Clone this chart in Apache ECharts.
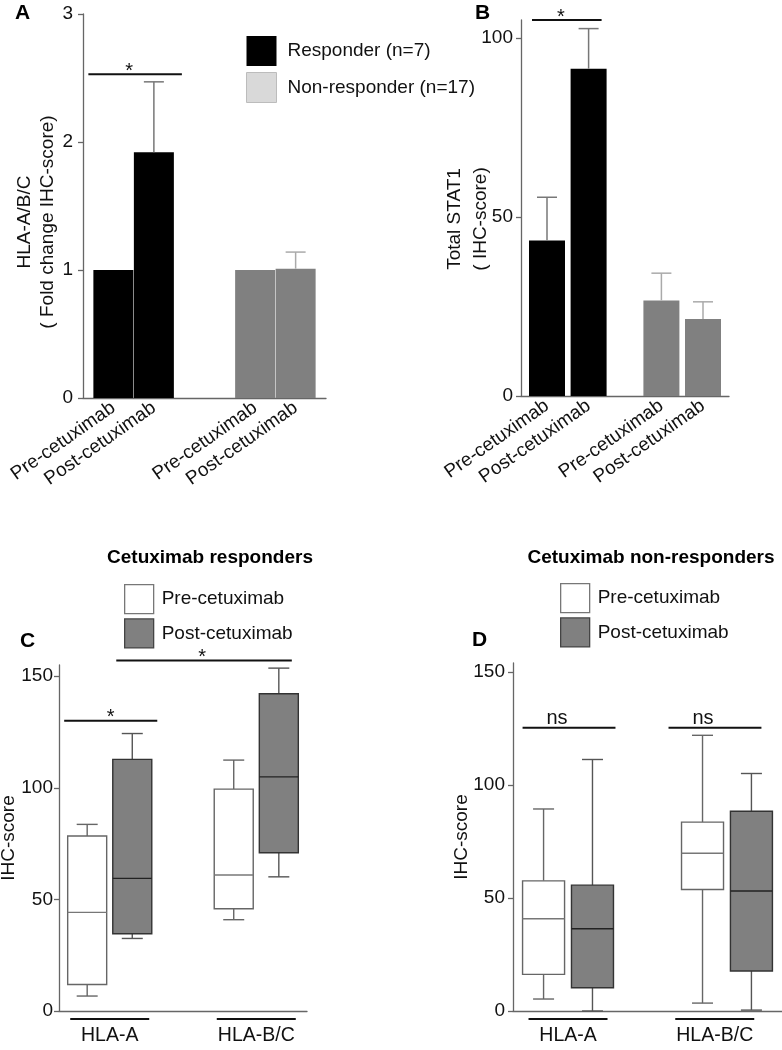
<!DOCTYPE html>
<html><head><meta charset="utf-8">
<script src="https://cdn.jsdelivr.net/npm/echarts@6/dist/echarts.min.js"></script>
<style>html,body{margin:0;padding:0;background:#fff}#c{width:782px;height:1050px}</style>
</head><body><div id="c"></div>
<script>
// ---------------- data ----------------
const barCategories = ['Pre-cetuximab', 'Post-cetuximab'];
const groupNames = ['Responder (n=7)', 'Non-responder (n=17)'];
const hlaResponder = [1.00, 1.92];
const hlaResponderErr = [0, 0.55];
const hlaNonResponder = [1.00, 1.01];
const hlaNonResponderErr = [0, 0.13];
const stat1Responder = [43.4, 91.4];
const stat1ResponderErr = [12.1, 11.2];
const stat1NonResponder = [26.7, 21.5];
const stat1NonResponderErr = [7.6, 4.8];
const hlaTicks = [0, 1, 2, 3];
const stat1Ticks = [0, 50, 100];

const boxCategories = ['HLA-A', 'HLA-B/C'];
const boxSeriesNames = ['Pre-cetuximab', 'Post-cetuximab'];
// [min, Q1, median, Q3, max]
const respPre = [[6.7, 11.9, 44.2, 78.4, 83.6], [40.9, 45.8, 60.9, 99.4, 112.4]];
const respPost = [[32.5, 34.6, 59.4, 112.7, 124.3], [60.1, 70.9, 104.9, 142.1, 153.6]];
const nonPre = [[5.3, 16.2, 40.8, 57.6, 89.4], [3.5, 53.8, 69.8, 83.6, 122.0]];
const nonPost = [[0, 10.3, 36.4, 55.7, 111.3], [0.4, 17.7, 53.1, 88.4, 105.1]];
const ihcTicks = [0, 50, 100, 150];

// significance marks: from/to index among the 4 marks (g1-pre, g1-post, g2-pre, g2-post)
const sigA = [{from: 0, to: 1, y: 2.53, label: '*'}];
const sigB = [{from: 0, to: 1, y: 105, label: '*'}];
const sigC = [{from: 0, to: 1, y: 130, label: '*'}, {from: 1, to: 3, y: 157, label: '*'}];
const sigD = [{from: 0, to: 1, y: 125.3, label: 'ns'}, {from: 2, to: 3, y: 125.3, label: 'ns'}];

// ---------------- layout ----------------
const FONT = 'Liberation Sans, Arial, Helvetica, sans-serif';
const AX = '#666';
const L = {
  A: {grid: {left: 83, top: 14, width: 243, height: 384}, slots: 12, pos: [1, 3, 8, 10], barWidth: 40, max: 3,
      sigExt: [[25, 28, -6]]},
  B: {grid: {left: 521, top: 20, width: 208, height: 376}, slots: 20, pos: [2, 6, 13, 17], barWidth: 36, max: 105,
      sigExt: [[15, 13, -6]]},
  C: {grid: {left: 59, top: 665, width: 248, height: 346}, slots: 22, pos: [2, 6, 15, 19], labelPos: [4, 17], boxWidth: 39, max: 155,
      sigExt: [[23, 25, 0], [16, 13, -2]]},
  D: {grid: {left: 513, top: 663, width: 269, height: 348}, slots: 22, pos: [2, 6, 15, 19], labelPos: [4, 16], boxWidth: 42, max: 154,
      sigExt: [[21, 23, -12], [34, 10, -12]]}
};

function slotLabels(n, positions, labels) {
  const a = new Array(n).fill('');
  positions.forEach((p, i) => { a[p] = labels[i]; });
  return a;
}
function slotValues(n, positions, values) {
  const a = new Array(n).fill('-');
  positions.forEach((p, i) => { a[p] = values[i]; });
  return a;
}

function errRender(capHalf, color) {
  return function (params, api) {
    const x = api.value(0), m = api.value(1), e = api.value(2);
    const p0 = api.coord([x, m]), p1 = api.coord([x, m + e]);
    return {type: 'group', children: [
      {type: 'line', shape: {x1: p0[0], y1: p0[1], x2: p1[0], y2: p1[1]}, style: {stroke: color, lineWidth: 1.5}},
      {type: 'line', shape: {x1: p1[0] - capHalf, y1: p1[1], x2: p1[0] + capHalf, y2: p1[1]}, style: {stroke: color, lineWidth: 1.5}}
    ]};
  };
}
function errSeries(idx, lay, positions, means, errs, color) {
  const data = [];
  means.forEach((m, i) => { if (errs[i] > 0) data.push([positions[i], m, errs[i]]); });
  return {type: 'custom', xAxisIndex: idx, yAxisIndex: idx, clip: false, silent: true, z: 5,
    encode: {x: 0, y: [1, 2]}, renderItem: errRender(10, color), data: data};
}
function sigSeries(idx, lay, items) {
  return {type: 'custom', xAxisIndex: idx, yAxisIndex: idx, clip: false, silent: true, z: 6,
    encode: {x: 0, y: 1},
    data: items.map(it => [lay.pos[it.from], it.y]),
    renderItem: function (params, api) {
      const it = items[params.dataIndex], ext = lay.sigExt[params.dataIndex];
      const a = api.coord([lay.pos[it.from], it.y]);
      const b = api.coord([lay.pos[it.to], it.y]);
      const x1 = a[0] - ext[0], x2 = b[0] + ext[1], y = a[1];
      const star = it.label === '*';
      return {type: 'group', children: [
        {type: 'line', shape: {x1: x1, y1: y, x2: x2, y2: y}, style: {stroke: '#111', lineWidth: 2}},
        {type: 'text', x: (x1 + x2) / 2 + ext[2], y: star ? y + 7 : y + 1,
          style: {text: it.label, fontSize: star ? 20 : 20, fontFamily: FONT, fill: '#111', align: 'center', verticalAlign: 'bottom'}}
      ]};
    }};
}
function boxSeries(idx, lay, name, offset, values, st) {
  const hw = lay.boxWidth / 2, cap = 10.5;
  return {type: 'custom', name: name, xAxisIndex: idx, yAxisIndex: idx, clip: false, z: 3,
    encode: {x: 0, y: [1, 2, 3, 4, 5]},
    itemStyle: {color: st.fill, borderColor: st.border},
    data: values.map((v, g) => [lay.pos[g * 2 + offset]].concat(v)),
    renderItem: function (params, api) {
      const x = api.value(0);
      const p = [1, 2, 3, 4, 5].map(i => api.coord([x, api.value(i)]));
      const cx = p[0][0];
      const ls = {stroke: st.whisker, lineWidth: 1.4};
      return {type: 'group', children: [
        {type: 'line', shape: {x1: cx, y1: p[4][1], x2: cx, y2: p[3][1]}, style: ls},
        {type: 'line', shape: {x1: cx, y1: p[1][1], x2: cx, y2: p[0][1]}, style: ls},
        {type: 'line', shape: {x1: cx - cap, y1: p[4][1], x2: cx + cap, y2: p[4][1]}, style: ls},
        {type: 'line', shape: {x1: cx - cap, y1: p[0][1], x2: cx + cap, y2: p[0][1]}, style: ls},
        {type: 'rect', shape: {x: cx - hw, y: p[3][1], width: lay.boxWidth, height: p[1][1] - p[3][1]},
          style: {fill: st.fill, stroke: st.border, lineWidth: 1.4}},
        {type: 'line', shape: {x1: cx - hw, y1: p[2][1], x2: cx + hw, y2: p[2][1]}, style: {stroke: st.median, lineWidth: 1.4}}
      ]};
    }};
}
function groupLineSeries(idx, lay) {
  return {type: 'custom', xAxisIndex: idx, yAxisIndex: idx, clip: false, silent: true,
    encode: {x: 0, y: 1},
    data: boxCategories.map((c, i) => [lay.labelPos[i], 0]),
    renderItem: function (params, api) {
      const c = api.coord([api.value(0), 0]);
      return {type: 'line', shape: {x1: c[0] - 39.5, y1: c[1] + 8, x2: c[0] + 39.5, y2: c[1] + 8},
        style: {stroke: '#111', lineWidth: 2.2}};
    }};
}

const PRE_ST = {fill: '#ffffff', border: '#666', median: '#777', whisker: '#666'};
const POST_ST = {fill: '#808080', border: '#333', median: '#222', whisker: '#555'};

function barXAxis(idx, lay) {
  const labels = slotLabels(lay.slots, lay.pos, barCategories.concat(barCategories));
  return {type: 'category', gridIndex: idx, data: labels,
    axisLine: {lineStyle: {color: AX, width: 1.3}},
    axisTick: {alignWithLabel: true, length: 5, lineStyle: {color: AX, width: 1.3},
      interval: (i) => lay.pos.indexOf(i) >= 0},
    axisLabel: {interval: 0, rotate: 35, fontSize: 19, margin: 8, color: '#111', fontFamily: FONT}};
}
function boxXAxis(idx, lay) {
  const labels = slotLabels(lay.slots, lay.labelPos, boxCategories);
  return {type: 'category', gridIndex: idx, data: labels,
    axisLine: {lineStyle: {color: AX, width: 1.3}},
    axisTick: {alignWithLabel: true, length: 5, lineStyle: {color: AX, width: 1.3},
      interval: (i) => lay.pos.indexOf(i) >= 0},
    axisLabel: {interval: 0, fontSize: 19.5, margin: 15, color: '#111', fontFamily: FONT}};
}
function valYAxis(idx, lay, ticks, name, gap, lineH, shift, margin) {
  return {type: 'value', gridIndex: idx, min: 0, max: lay.max,
    splitLine: {show: false},
    axisLine: {show: true, lineStyle: {color: AX, width: 1.3}},
    axisTick: {show: true, length: 5, customValues: ticks, lineStyle: {color: AX, width: 1.3}},
    axisLabel: {customValues: ticks, fontSize: 19, margin: margin, color: '#111', fontFamily: FONT},
    name: name, nameLocation: 'middle', nameRotate: 90, nameGap: gap, nameMoveOverlap: false,
    nameTextStyle: {fontSize: 19, lineHeight: lineH, color: '#111', fontFamily: FONT, padding: [0, shift, 0, 0]}};
}

const chart = echarts.init(document.getElementById('c'), null, {renderer: 'canvas'});
const option = {
  animation: false,
  backgroundColor: '#fff',
  textStyle: {fontFamily: FONT},
  grid: [
    Object.assign({outerBoundsMode: 'none', containLabel: false}, L.A.grid),
    Object.assign({outerBoundsMode: 'none', containLabel: false}, L.B.grid),
    Object.assign({outerBoundsMode: 'none', containLabel: false}, L.C.grid),
    Object.assign({outerBoundsMode: 'none', containLabel: false}, L.D.grid)
  ],
  xAxis: [barXAxis(0, L.A), barXAxis(1, L.B), boxXAxis(2, L.C), boxXAxis(3, L.D)],
  yAxis: [
    valYAxis(0, L.A, hlaTicks, 'HLA-A/B/C\n( Fold change IHC-score)', 24, 23, 32, 10),
    valYAxis(1, L.B, stat1Ticks, 'Total STAT1\n( IHC-score)', 27, 26, 22, 8),
    valYAxis(2, L.C, ihcTicks, 'IHC-score', 39, 22, 0, 6),
    valYAxis(3, L.D, ihcTicks, 'IHC-score', 40, 22, 0, 8)
  ],
  legend: [
    {orient: 'vertical', left: 246, top: 36, padding: 0, itemWidth: 30, itemHeight: 30, itemGap: 6,
      icon: 'rect', selectedMode: false,
      textStyle: {fontSize: 19, color: '#111', fontFamily: FONT, padding: [0, 0, 0, 6]},
      data: [
        {name: groupNames[0], itemStyle: {color: '#000', borderWidth: 0}},
        {name: groupNames[1], itemStyle: {color: '#d9d9d9', borderColor: '#bcbcbc', borderWidth: 1}}
      ]},
    {orient: 'vertical', left: 124, top: 584, padding: 0, itemWidth: 29, itemHeight: 29, itemGap: 4,
      icon: 'rect', selectedMode: false,
      textStyle: {fontSize: 19, color: '#111', fontFamily: FONT, padding: [0, 0, 0, 3]},
      data: [
        {name: boxSeriesNames[0], itemStyle: {color: '#fff', borderColor: '#777', borderWidth: 1.3}},
        {name: boxSeriesNames[1], itemStyle: {color: '#808080', borderColor: '#444', borderWidth: 1.3}}
      ]},
    {orient: 'vertical', left: 560, top: 583, padding: 0, itemWidth: 29, itemHeight: 29, itemGap: 4,
      icon: 'rect', selectedMode: false,
      textStyle: {fontSize: 19, color: '#111', fontFamily: FONT, padding: [0, 0, 0, 3]},
      data: [
        {name: boxSeriesNames[0], itemStyle: {color: '#fff', borderColor: '#777', borderWidth: 1.3}},
        {name: boxSeriesNames[1], itemStyle: {color: '#808080', borderColor: '#444', borderWidth: 1.3}}
      ]}
  ],
  graphic: [
    {type: 'text', left: 15, top: 3, style: {text: 'A', font: 'bold 21px ' + FONT, fill: '#000'}},
    {type: 'text', left: 475, top: 3, style: {text: 'B', font: 'bold 21px ' + FONT, fill: '#000'}},
    {type: 'text', left: 20, top: 631, style: {text: 'C', font: 'bold 21px ' + FONT, fill: '#000'}},
    {type: 'text', left: 472, top: 630, style: {text: 'D', font: 'bold 21px ' + FONT, fill: '#000'}},
    {type: 'text', x: 210, y: 558, style: {text: 'Cetuximab responders', font: 'bold 19px ' + FONT, fill: '#000', align: 'center', verticalAlign: 'middle'}},
    {type: 'text', x: 651, y: 558, style: {text: 'Cetuximab non-responders', font: 'bold 19px ' + FONT, fill: '#000', align: 'center', verticalAlign: 'middle'}}
  ],
  series: [
    // Panel A
    {type: 'bar', name: groupNames[0], xAxisIndex: 0, yAxisIndex: 0, barWidth: L.A.barWidth, barGap: '-100%',
      itemStyle: {color: '#000'}, data: slotValues(L.A.slots, L.A.pos.slice(0, 2), hlaResponder)},
    {type: 'bar', name: groupNames[1], xAxisIndex: 0, yAxisIndex: 0, barWidth: L.A.barWidth, barGap: '-100%',
      itemStyle: {color: '#808080'}, data: slotValues(L.A.slots, L.A.pos.slice(2, 4), hlaNonResponder)},
    errSeries(0, L.A, L.A.pos.slice(0, 2), hlaResponder, hlaResponderErr, '#777'),
    errSeries(0, L.A, L.A.pos.slice(2, 4), hlaNonResponder, hlaNonResponderErr, '#aaa'),
    sigSeries(0, L.A, sigA),
    // Panel B
    {type: 'bar', name: groupNames[0], xAxisIndex: 1, yAxisIndex: 1, barWidth: L.B.barWidth, barGap: '-100%',
      itemStyle: {color: '#000'}, data: slotValues(L.B.slots, L.B.pos.slice(0, 2), stat1Responder)},
    {type: 'bar', name: groupNames[1], xAxisIndex: 1, yAxisIndex: 1, barWidth: L.B.barWidth, barGap: '-100%',
      itemStyle: {color: '#808080'}, data: slotValues(L.B.slots, L.B.pos.slice(2, 4), stat1NonResponder)},
    errSeries(1, L.B, L.B.pos.slice(0, 2), stat1Responder, stat1ResponderErr, '#777'),
    errSeries(1, L.B, L.B.pos.slice(2, 4), stat1NonResponder, stat1NonResponderErr, '#aaa'),
    sigSeries(1, L.B, sigB),
    // Panel C
    boxSeries(2, L.C, boxSeriesNames[0], 0, respPre, PRE_ST),
    boxSeries(2, L.C, boxSeriesNames[1], 1, respPost, POST_ST),
    sigSeries(2, L.C, sigC),
    groupLineSeries(2, L.C),
    // Panel D
    boxSeries(3, L.D, boxSeriesNames[0], 0, nonPre, PRE_ST),
    boxSeries(3, L.D, boxSeriesNames[1], 1, nonPost, POST_ST),
    sigSeries(3, L.D, sigD),
    groupLineSeries(3, L.D)
  ]
};
chart.setOption(option);
</script>
</body></html>
